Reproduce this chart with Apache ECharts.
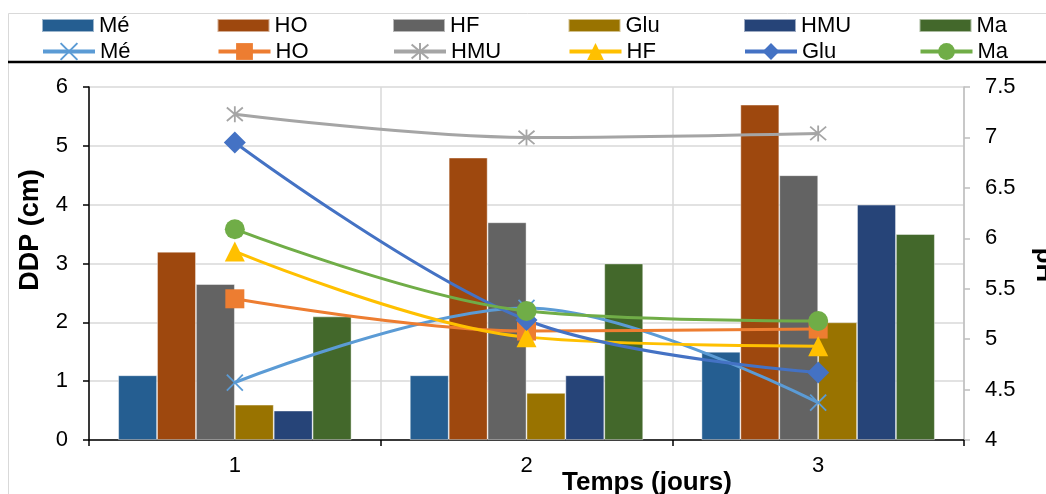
<!DOCTYPE html>
<html>
<head>
<meta charset="utf-8">
<script src="https://cdn.jsdelivr.net/npm/echarts@6/dist/echarts.min.js"></script>
<style>
html,body{margin:0;padding:0;background:#fff;}
#c{width:1046px;height:494px;}
</style>
</head>
<body>
<div id="c"></div>
<script>
// ---- data ----
var categories = ['1', '2', '3'];
var barNames = ['Mé', 'HO', 'HF', 'Glu', 'HMU', 'Ma'];
var barMe  = [1.1, 1.1, 1.5];
var barHO  = [3.2, 4.8, 5.7];
var barHF  = [2.65, 3.7, 4.5];
var barGlu = [0.6, 0.8, 2.0];
var barHMU = [0.5, 1.1, 4.0];
var barMa  = [2.1, 3.0, 3.5];

var lineNames = ['Mé', 'HO', 'HMU', 'HF', 'Glu', 'Ma'];
var phMe  = [4.57, 5.31, 4.37];
var phHO  = [5.40, 5.08, 5.10];
var phHMU = [7.23, 7.00, 7.04];
var phHF  = [5.87, 5.02, 4.93];
var phGlu = [6.95, 5.19, 4.67];
var phMa  = [6.09, 5.28, 5.18];

var leftTicks = [0, 1, 2, 3, 4, 5, 6];
var rightTicks = [4, 4.5, 5, 5.5, 6, 6.5, 7, 7.5];

// ---- styles ----
var FONT = '"Liberation Sans", Arial, sans-serif';
var barColors = ['#255E91', '#9E480E', '#636363', '#997300', '#264478', '#43682B'];
var lineColors = {'Mé': '#5B9BD5', 'HO': '#ED7D31', 'HMU': '#A5A5A5', 'HF': '#FFC000', 'Glu': '#4472C4', 'Ma': '#70AD47'};
var lineSymbols = {
  'Mé': 'path://M0,0L10,10M10,0L0,10',
  'HO': 'rect',
  'HMU': 'path://M5,0L5,10M0.8,0.8L9.2,9.2M9.2,0.8L0.8,9.2',
  'HF': 'triangle',
  'Glu': 'diamond',
  'Ma': 'circle'
};
var lineSizes = {'Mé': 16, 'HO': 19, 'HMU': 16, 'HF': 20, 'Glu': 22, 'Ma': 20};
var barData = [barMe, barHO, barHF, barGlu, barHMU, barMa];
var lineData = [phMe, phHO, phHMU, phHF, phGlu, phMa];
var PFX = 'pH-';

var series = [];
barNames.forEach(function (n, i) {
  series.push({
    name: n, type: 'bar', yAxisIndex: 0,
    data: barData[i],
    barGap: '0%', barCategoryGap: '20%',
    itemStyle: {color: barColors[i], borderColor: 'rgba(255,255,255,0.55)', borderWidth: 0.8}
  });
});
lineNames.forEach(function (n, i) {
  var c = lineColors[n];
  var stroked = (n === 'Mé' || n === 'HMU');
  series.push({
    name: PFX + n, type: 'line', yAxisIndex: 1,
    data: lineData[i],
    smooth: 0.35,
    symbol: lineSymbols[n],
    symbolSize: lineSizes[n],
    showAllSymbol: true,
    lineStyle: {color: c, width: 3},
    itemStyle: stroked ? {color: c, borderColor: c, borderWidth: 1.8} : {color: c, borderWidth: 0},
    emphasis: {disabled: true},
    z: 3
  });
});

var legendText = {color: '#000', fontFamily: FONT, fontSize: 22, lineHeight: 22};
var legends = [];
barNames.forEach(function (n, i) {
  legends.push({
    data: [n], left: 41 + i * 175.5, top: 14.5, padding: 0,
    itemWidth: 52, itemHeight: 13, itemGap: 0, icon: 'rect',
    textStyle: legendText, selectedMode: false
  });
});
lineNames.forEach(function (n, i) {
  legends.push({
    data: [PFX + n], left: 41 + i * 175.5, top: 40.5, padding: 0,
    formatter: function (s) { return s.replace(PFX, ''); },
    itemWidth: 52, itemHeight: 21, itemGap: 0,
    lineStyle: {width: 4},
    textStyle: legendText, selectedMode: false
  });
});

var chart = echarts.init(document.getElementById('c'), null, {renderer: 'canvas'});
chart.setOption({
  animation: false,
  backgroundColor: '#fff',
  legend: legends,
  grid: {left: 89, right: 82, top: 87, bottom: 54},
  xAxis: {
    type: 'category', data: categories,
    axisLine: {lineStyle: {color: '#000', width: 1.5}},
    axisTick: {show: true, alignWithLabel: false, length: 6, lineStyle: {color: '#000', width: 1.5}},
    axisLabel: {color: '#000', fontFamily: FONT, fontSize: 22, margin: 15},
    splitLine: {show: true, lineStyle: {color: '#D9D9D9', width: 1.5}}
  },
  yAxis: [
    {
      type: 'value', min: 0, max: 6, interval: 1,
      axisLine: {show: true, lineStyle: {color: '#000', width: 1.5}},
      axisTick: {show: true, length: 6, lineStyle: {color: '#000', width: 1.5}},
      axisLabel: {color: '#000', fontFamily: FONT, fontSize: 22, margin: 21,
        formatter: function (v) { return leftTicks.indexOf(v) >= 0 ? String(v) : ''; }},
      splitLine: {show: true, lineStyle: {color: '#D9D9D9', width: 1.5}}
    },
    {
      type: 'value', min: 4, max: 7.5, interval: 0.5, position: 'right',
      axisLine: {show: true, lineStyle: {color: '#BFBFBF', width: 1.5}},
      axisTick: {show: true, length: 6, lineStyle: {color: '#BFBFBF', width: 1.5}},
      axisLabel: {color: '#000', fontFamily: FONT, fontSize: 22, margin: 21,
        formatter: function (v) { return rightTicks.indexOf(v) >= 0 ? String(v) : ''; }},
      splitLine: {show: false}
    }
  ],
  graphic: [
    {type: 'rect', shape: {x: 8.5, y: 13.5, width: 1100, height: 600},
      style: {fill: 'none', stroke: '#D9D9D9', lineWidth: 1}, z: -10, silent: true},
    {type: 'line', shape: {x1: 8, y1: 62, x2: 1046, y2: 62},
      style: {stroke: '#000', lineWidth: 2.5}, silent: true},
    {type: 'text', x: 31, y: 230, rotation: Math.PI / 2,
      style: {text: 'DDP (cm)', fill: '#000', font: 'bold 27px ' + FONT, textAlign: 'center', textVerticalAlign: 'middle'}},
    {type: 'text', x: 1044, y: 265, rotation: -Math.PI / 2,
      style: {text: 'pH', fill: '#000', font: 'bold 26px ' + FONT, textAlign: 'center', textVerticalAlign: 'middle'}},
    {type: 'text', x: 647, y: 483,
      style: {text: 'Temps (jours)', fill: '#000', font: 'bold 26px ' + FONT, textAlign: 'center', textVerticalAlign: 'middle'}}
  ],
  series: series
});
</script>
</body>
</html>
